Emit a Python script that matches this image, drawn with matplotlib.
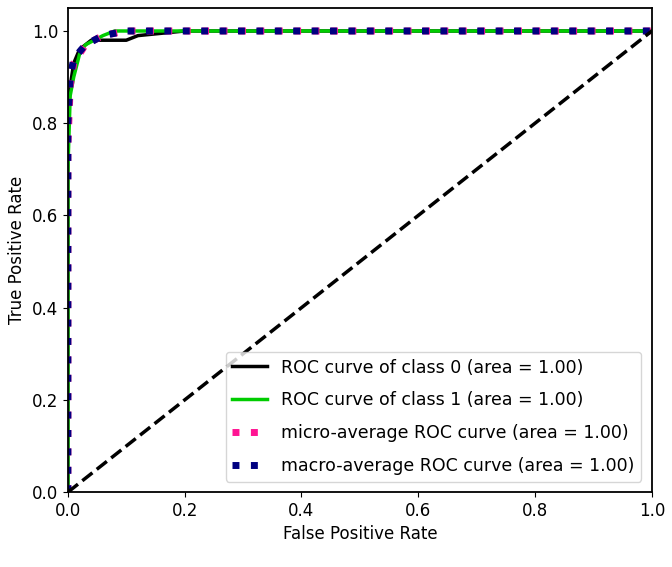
import matplotlib
matplotlib.use("Agg")
import matplotlib.pyplot as plt

# ROC points
fpr_0 = [0.0, 0.0, 0.0, 0.004, 0.01, 0.02, 0.04, 0.10, 0.12, 0.20, 1.0]
tpr_0 = [0.0, 0.75, 0.82, 0.88, 0.93, 0.96, 0.98, 0.98, 0.99, 1.0, 1.0]

fpr_1 = [0.0, 0.0, 0.004, 0.01, 0.02, 0.03, 0.06, 0.08, 1.0]
tpr_1 = [0.0, 0.70, 0.86, 0.90, 0.95, 0.97, 0.99, 1.0, 1.0]

fpr_micro = [0.0, 0.0, 0.004, 0.01, 0.03, 0.06, 0.10, 1.0]
tpr_micro = [0.0, 0.75, 0.88, 0.93, 0.97, 0.99, 1.0, 1.0]

fpr_macro = [0.0, 0.0, 0.004, 0.01, 0.03, 0.06, 0.10, 1.0]
tpr_macro = [0.0, 0.80, 0.90, 0.94, 0.97, 0.99, 1.0, 1.0]

labels = ["ROC curve of class 0 (area = 1.00)",
          "ROC curve of class 1 (area = 1.00)",
          "micro-average ROC curve (area = 1.00)",
          "macro-average ROC curve (area = 1.00)"]

fig = plt.figure(figsize=(6.72, 5.67), dpi=100)
ax = fig.add_axes([0.101, 0.132, 0.869, 0.854])

ax.plot(fpr_0, tpr_0, color="black", lw=2.5, label=labels[0])
ax.plot(fpr_1, tpr_1, color="#00cc00", lw=2.5, label=labels[1])
ax.plot(fpr_micro, tpr_micro, color="deeppink", ls=":", lw=5, label=labels[2])
ax.plot(fpr_macro, tpr_macro, color="navy", ls=":", lw=5, label=labels[3])
ax.plot([0, 1], [0, 1], "k--", lw=2.5)

ax.set_xlim(0.0, 1.0)
ax.set_ylim(0.0, 1.05)
ax.set_xlabel("False Positive Rate", fontsize=12)
ax.set_ylabel("True Positive Rate", fontsize=12)
ax.tick_params(labelsize=12)
for s in ax.spines.values():
    s.set_linewidth(1.3)
ax.legend(loc="lower right", fontsize=12.5, labelspacing=0.85,
          handlelength=2.0, borderaxespad=0.6)

fig.savefig("out.png", dpi=100)
